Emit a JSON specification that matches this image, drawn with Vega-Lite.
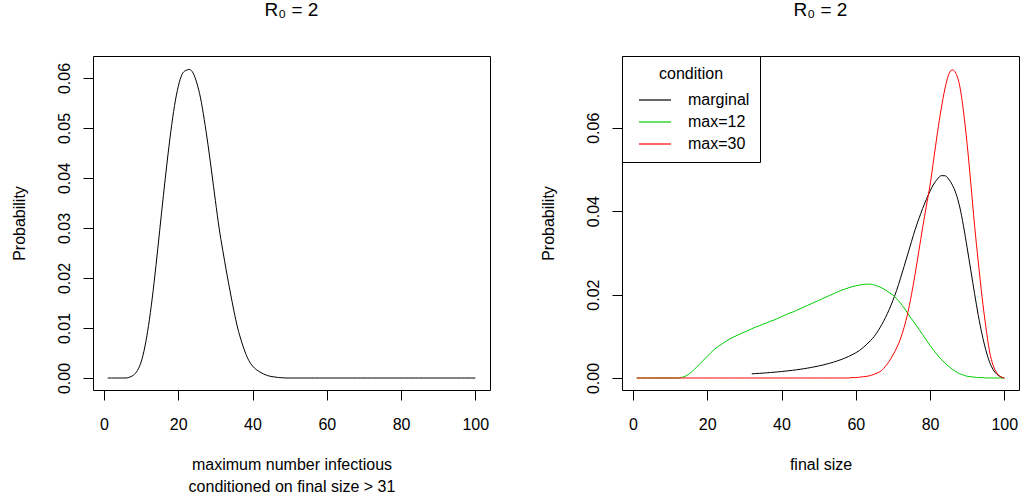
{
"$schema":"https://vega.github.io/schema/vega-lite/v6.json",
"padding":{"left":10,"top":0,"right":0,"bottom":0},
"spacing":48,
"resolve":{"scale":{"color":"independent"},"legend":{"color":"independent"}},
"config":{
 "font":"Liberation Sans",
 "view":{"stroke":"black","strokeWidth":1},
 "axis":{"grid":false,"domain":false,"tickColor":"black","tickSize":10,"tickWidth":1,"labelColor":"black","titleColor":"black","labelFontSize":16,"titleFontSize":16,"titleFontWeight":"normal","labelFont":"Liberation Sans","titleFont":"Liberation Sans","labelOverlap":false,"labelFlush":false},
 "title":{"fontSize":19,"fontWeight":"normal","color":"black","font":"Liberation Sans","anchor":"middle","baseline":"alphabetic","offset":36},
 "legend":{"titleFontSize":16,"labelFontSize":16,"titleFontWeight":"normal","labelColor":"black","titleColor":"black","labelFont":"Liberation Sans","titleFont":"Liberation Sans","strokeColor":"black","strokeWidth":1,"fillColor":"white","padding":10,"symbolType":"M-2,0H2","symbolSize":256,"symbolStrokeWidth":1.2,"symbolOffset":14,"labelOffset":24,"rowPadding":5,"titlePadding":9,"titleAnchor":"middle","titleAlign":"center"}
},
"datasets":{
"left":[
{"x":1,"p":0},{"x":2,"p":0},{"x":3,"p":0},{"x":4,"p":0},{"x":5,"p":0},{"x":6,"p":0},{"x":7,"p":0.0002},{"x":8,"p":0.0006},{"x":9,"p":0.0015},{"x":10,"p":0.0032},
{"x":11,"p":0.0062},{"x":12,"p":0.0105},{"x":13,"p":0.016},{"x":14,"p":0.0225},{"x":15,"p":0.0295},{"x":16,"p":0.0365},{"x":17,"p":0.0432},{"x":18,"p":0.0493},{"x":19,"p":0.0545},{"x":20,"p":0.0583},
{"x":21,"p":0.0607},{"x":22,"p":0.0615},{"x":23,"p":0.0617},{"x":24,"p":0.061},{"x":25,"p":0.059},{"x":26,"p":0.056},{"x":27,"p":0.0517},{"x":28,"p":0.0467},{"x":29,"p":0.0412},{"x":30,"p":0.0355},
{"x":31,"p":0.03},{"x":32,"p":0.0255},{"x":33,"p":0.0212},{"x":34,"p":0.0172},{"x":35,"p":0.0134},{"x":36,"p":0.01},{"x":37,"p":0.0074},{"x":38,"p":0.0052},{"x":39,"p":0.0035},{"x":40,"p":0.0024},
{"x":41,"p":0.0017},{"x":42,"p":0.0012},{"x":43,"p":0.0008},{"x":44,"p":0.0005},{"x":45,"p":0.0003},{"x":46,"p":0.0002},{"x":47,"p":0.0001},{"x":48,"p":0.00005},{"x":49,"p":0},{"x":50,"p":0},
{"x":51,"p":0},{"x":52,"p":0},{"x":53,"p":0},{"x":54,"p":0},{"x":55,"p":0},{"x":56,"p":0},{"x":57,"p":0},{"x":58,"p":0},{"x":59,"p":0},{"x":60,"p":0},
{"x":61,"p":0},{"x":62,"p":0},{"x":63,"p":0},{"x":64,"p":0},{"x":65,"p":0},{"x":66,"p":0},{"x":67,"p":0},{"x":68,"p":0},{"x":69,"p":0},{"x":70,"p":0},
{"x":71,"p":0},{"x":72,"p":0},{"x":73,"p":0},{"x":74,"p":0},{"x":75,"p":0},{"x":76,"p":0},{"x":77,"p":0},{"x":78,"p":0},{"x":79,"p":0},{"x":80,"p":0},
{"x":81,"p":0},{"x":82,"p":0},{"x":83,"p":0},{"x":84,"p":0},{"x":85,"p":0},{"x":86,"p":0},{"x":87,"p":0},{"x":88,"p":0},{"x":89,"p":0},{"x":90,"p":0},
{"x":91,"p":0},{"x":92,"p":0},{"x":93,"p":0},{"x":94,"p":0},{"x":95,"p":0},{"x":96,"p":0},{"x":97,"p":0},{"x":98,"p":0},{"x":99,"p":0},{"x":100,"p":0}
],
"right":[
{"x":32,"p":0.001,"condition":"marginal"},{"x":33,"p":0.00105,"condition":"marginal"},{"x":34,"p":0.00111,"condition":"marginal"},{"x":35,"p":0.00117,"condition":"marginal"},{"x":36,"p":0.00124,"condition":"marginal"},{"x":37,"p":0.00131,"condition":"marginal"},{"x":38,"p":0.00138,"condition":"marginal"},{"x":39,"p":0.00146,"condition":"marginal"},{"x":40,"p":0.00155,"condition":"marginal"},
{"x":41,"p":0.00164,"condition":"marginal"},{"x":42,"p":0.00174,"condition":"marginal"},{"x":43,"p":0.00185,"condition":"marginal"},{"x":44,"p":0.00196,"condition":"marginal"},{"x":45,"p":0.00209,"condition":"marginal"},{"x":46,"p":0.00222,"condition":"marginal"},{"x":47,"p":0.00237,"condition":"marginal"},{"x":48,"p":0.00252,"condition":"marginal"},{"x":49,"p":0.0027,"condition":"marginal"},{"x":50,"p":0.00288,"condition":"marginal"},
{"x":51,"p":0.00308,"condition":"marginal"},{"x":52,"p":0.0033,"condition":"marginal"},{"x":53,"p":0.00354,"condition":"marginal"},{"x":54,"p":0.0038,"condition":"marginal"},{"x":55,"p":0.00409,"condition":"marginal"},{"x":56,"p":0.0044,"condition":"marginal"},{"x":57,"p":0.00475,"condition":"marginal"},{"x":58,"p":0.00514,"condition":"marginal"},{"x":59,"p":0.00557,"condition":"marginal"},{"x":60,"p":0.00605,"condition":"marginal"},
{"x":61,"p":0.0066,"condition":"marginal"},{"x":62,"p":0.0073,"condition":"marginal"},{"x":63,"p":0.0081,"condition":"marginal"},{"x":64,"p":0.009,"condition":"marginal"},{"x":65,"p":0.01,"condition":"marginal"},{"x":66,"p":0.0113,"condition":"marginal"},{"x":67,"p":0.0128,"condition":"marginal"},{"x":68,"p":0.0145,"condition":"marginal"},{"x":69,"p":0.0164,"condition":"marginal"},{"x":70,"p":0.0186,"condition":"marginal"},
{"x":71,"p":0.021,"condition":"marginal"},{"x":72,"p":0.0238,"condition":"marginal"},{"x":73,"p":0.0267,"condition":"marginal"},{"x":74,"p":0.0297,"condition":"marginal"},{"x":75,"p":0.0327,"condition":"marginal"},{"x":76,"p":0.0356,"condition":"marginal"},{"x":77,"p":0.0382,"condition":"marginal"},{"x":78,"p":0.0406,"condition":"marginal"},{"x":79,"p":0.0428,"condition":"marginal"},{"x":80,"p":0.0448,"condition":"marginal"},
{"x":81,"p":0.0465,"condition":"marginal"},{"x":82,"p":0.0477,"condition":"marginal"},{"x":83,"p":0.0485,"condition":"marginal"},{"x":84,"p":0.0485,"condition":"marginal"},{"x":85,"p":0.0477,"condition":"marginal"},{"x":86,"p":0.0463,"condition":"marginal"},{"x":87,"p":0.0442,"condition":"marginal"},{"x":88,"p":0.041,"condition":"marginal"},{"x":89,"p":0.0365,"condition":"marginal"},{"x":90,"p":0.0312,"condition":"marginal"},
{"x":91,"p":0.0257,"condition":"marginal"},{"x":92,"p":0.0202,"condition":"marginal"},{"x":93,"p":0.015,"condition":"marginal"},{"x":94,"p":0.0105,"condition":"marginal"},{"x":95,"p":0.0068,"condition":"marginal"},{"x":96,"p":0.0039,"condition":"marginal"},{"x":97,"p":0.002,"condition":"marginal"},{"x":98,"p":0.0009,"condition":"marginal"},{"x":99,"p":0.0003,"condition":"marginal"},{"x":100,"p":0,"condition":"marginal"},
{"x":1,"p":0,"condition":"max=12"},{"x":2,"p":0,"condition":"max=12"},{"x":3,"p":0,"condition":"max=12"},{"x":4,"p":0,"condition":"max=12"},{"x":5,"p":0,"condition":"max=12"},{"x":6,"p":0,"condition":"max=12"},{"x":7,"p":0,"condition":"max=12"},{"x":8,"p":0,"condition":"max=12"},{"x":9,"p":0,"condition":"max=12"},{"x":10,"p":0,"condition":"max=12"},
{"x":11,"p":0,"condition":"max=12"},{"x":12,"p":0,"condition":"max=12"},{"x":13,"p":0.0001,"condition":"max=12"},{"x":14,"p":0.0004,"condition":"max=12"},{"x":15,"p":0.0009,"condition":"max=12"},{"x":16,"p":0.0016,"condition":"max=12"},{"x":17,"p":0.0025,"condition":"max=12"},{"x":18,"p":0.0034,"condition":"max=12"},{"x":19,"p":0.0043,"condition":"max=12"},{"x":20,"p":0.0052,"condition":"max=12"},
{"x":21,"p":0.0061,"condition":"max=12"},{"x":22,"p":0.0069,"condition":"max=12"},{"x":23,"p":0.0076,"condition":"max=12"},{"x":24,"p":0.0082,"condition":"max=12"},{"x":25,"p":0.0088,"condition":"max=12"},{"x":26,"p":0.0093,"condition":"max=12"},{"x":27,"p":0.0098,"condition":"max=12"},{"x":28,"p":0.0102,"condition":"max=12"},{"x":29,"p":0.0106,"condition":"max=12"},{"x":30,"p":0.011,"condition":"max=12"},
{"x":31,"p":0.0114,"condition":"max=12"},{"x":32,"p":0.0118,"condition":"max=12"},{"x":33,"p":0.0122,"condition":"max=12"},{"x":34,"p":0.0125,"condition":"max=12"},{"x":35,"p":0.0129,"condition":"max=12"},{"x":36,"p":0.0132,"condition":"max=12"},{"x":37,"p":0.0136,"condition":"max=12"},{"x":38,"p":0.0139,"condition":"max=12"},{"x":39,"p":0.0143,"condition":"max=12"},{"x":40,"p":0.0147,"condition":"max=12"},
{"x":41,"p":0.0151,"condition":"max=12"},{"x":42,"p":0.0155,"condition":"max=12"},{"x":43,"p":0.0158,"condition":"max=12"},{"x":44,"p":0.0162,"condition":"max=12"},{"x":45,"p":0.0166,"condition":"max=12"},{"x":46,"p":0.017,"condition":"max=12"},{"x":47,"p":0.0174,"condition":"max=12"},{"x":48,"p":0.0178,"condition":"max=12"},{"x":49,"p":0.0182,"condition":"max=12"},{"x":50,"p":0.0186,"condition":"max=12"},
{"x":51,"p":0.019,"condition":"max=12"},{"x":52,"p":0.0194,"condition":"max=12"},{"x":53,"p":0.0198,"condition":"max=12"},{"x":54,"p":0.0202,"condition":"max=12"},{"x":55,"p":0.0206,"condition":"max=12"},{"x":56,"p":0.021,"condition":"max=12"},{"x":57,"p":0.0213,"condition":"max=12"},{"x":58,"p":0.0216,"condition":"max=12"},{"x":59,"p":0.0219,"condition":"max=12"},{"x":60,"p":0.0221,"condition":"max=12"},
{"x":61,"p":0.0223,"condition":"max=12"},{"x":62,"p":0.0224,"condition":"max=12"},{"x":63,"p":0.0225,"condition":"max=12"},{"x":64,"p":0.0225,"condition":"max=12"},{"x":65,"p":0.0223,"condition":"max=12"},{"x":66,"p":0.022,"condition":"max=12"},{"x":67,"p":0.0216,"condition":"max=12"},{"x":68,"p":0.0211,"condition":"max=12"},{"x":69,"p":0.0205,"condition":"max=12"},{"x":70,"p":0.0199,"condition":"max=12"},
{"x":71,"p":0.019,"condition":"max=12"},{"x":72,"p":0.018,"condition":"max=12"},{"x":73,"p":0.0168,"condition":"max=12"},{"x":74,"p":0.0155,"condition":"max=12"},{"x":75,"p":0.0142,"condition":"max=12"},{"x":76,"p":0.013,"condition":"max=12"},{"x":77,"p":0.0117,"condition":"max=12"},{"x":78,"p":0.0104,"condition":"max=12"},{"x":79,"p":0.0091,"condition":"max=12"},{"x":80,"p":0.0078,"condition":"max=12"},
{"x":81,"p":0.0066,"condition":"max=12"},{"x":82,"p":0.0055,"condition":"max=12"},{"x":83,"p":0.0045,"condition":"max=12"},{"x":84,"p":0.0036,"condition":"max=12"},{"x":85,"p":0.0028,"condition":"max=12"},{"x":86,"p":0.0021,"condition":"max=12"},{"x":87,"p":0.0015,"condition":"max=12"},{"x":88,"p":0.001,"condition":"max=12"},{"x":89,"p":0.0007,"condition":"max=12"},{"x":90,"p":0.0004,"condition":"max=12"},
{"x":91,"p":0.0003,"condition":"max=12"},{"x":92,"p":0.0002,"condition":"max=12"},{"x":93,"p":0.0001,"condition":"max=12"},{"x":94,"p":0.0001,"condition":"max=12"},{"x":95,"p":0,"condition":"max=12"},{"x":96,"p":0,"condition":"max=12"},{"x":97,"p":0,"condition":"max=12"},{"x":98,"p":0,"condition":"max=12"},{"x":99,"p":0,"condition":"max=12"},{"x":100,"p":0,"condition":"max=12"},
{"x":1,"p":0,"condition":"max=30"},{"x":2,"p":0,"condition":"max=30"},{"x":3,"p":0,"condition":"max=30"},{"x":4,"p":0,"condition":"max=30"},{"x":5,"p":0,"condition":"max=30"},{"x":6,"p":0,"condition":"max=30"},{"x":7,"p":0,"condition":"max=30"},{"x":8,"p":0,"condition":"max=30"},{"x":9,"p":0,"condition":"max=30"},{"x":10,"p":0,"condition":"max=30"},
{"x":11,"p":0,"condition":"max=30"},{"x":12,"p":0,"condition":"max=30"},{"x":13,"p":0,"condition":"max=30"},{"x":14,"p":0,"condition":"max=30"},{"x":15,"p":0,"condition":"max=30"},{"x":16,"p":0,"condition":"max=30"},{"x":17,"p":0,"condition":"max=30"},{"x":18,"p":0,"condition":"max=30"},{"x":19,"p":0,"condition":"max=30"},{"x":20,"p":0,"condition":"max=30"},
{"x":21,"p":0,"condition":"max=30"},{"x":22,"p":0,"condition":"max=30"},{"x":23,"p":0,"condition":"max=30"},{"x":24,"p":0,"condition":"max=30"},{"x":25,"p":0,"condition":"max=30"},{"x":26,"p":0,"condition":"max=30"},{"x":27,"p":0,"condition":"max=30"},{"x":28,"p":0,"condition":"max=30"},{"x":29,"p":0,"condition":"max=30"},{"x":30,"p":0,"condition":"max=30"},
{"x":31,"p":0,"condition":"max=30"},{"x":32,"p":0,"condition":"max=30"},{"x":33,"p":0,"condition":"max=30"},{"x":34,"p":0,"condition":"max=30"},{"x":35,"p":0,"condition":"max=30"},{"x":36,"p":0,"condition":"max=30"},{"x":37,"p":0,"condition":"max=30"},{"x":38,"p":0,"condition":"max=30"},{"x":39,"p":0,"condition":"max=30"},{"x":40,"p":0,"condition":"max=30"},
{"x":41,"p":0,"condition":"max=30"},{"x":42,"p":0,"condition":"max=30"},{"x":43,"p":0,"condition":"max=30"},{"x":44,"p":0,"condition":"max=30"},{"x":45,"p":0,"condition":"max=30"},{"x":46,"p":0,"condition":"max=30"},{"x":47,"p":0,"condition":"max=30"},{"x":48,"p":0,"condition":"max=30"},{"x":49,"p":0,"condition":"max=30"},{"x":50,"p":0,"condition":"max=30"},
{"x":51,"p":0,"condition":"max=30"},{"x":52,"p":0,"condition":"max=30"},{"x":53,"p":0,"condition":"max=30"},{"x":54,"p":0,"condition":"max=30"},{"x":55,"p":0,"condition":"max=30"},{"x":56,"p":0,"condition":"max=30"},{"x":57,"p":0,"condition":"max=30"},{"x":58,"p":0,"condition":"max=30"},{"x":59,"p":0.0001,"condition":"max=30"},{"x":60,"p":0.0001,"condition":"max=30"},
{"x":61,"p":0.0002,"condition":"max=30"},{"x":62,"p":0.0003,"condition":"max=30"},{"x":63,"p":0.0004,"condition":"max=30"},{"x":64,"p":0.0006,"condition":"max=30"},{"x":65,"p":0.0009,"condition":"max=30"},{"x":66,"p":0.0013,"condition":"max=30"},{"x":67,"p":0.0018,"condition":"max=30"},{"x":68,"p":0.0028,"condition":"max=30"},{"x":69,"p":0.004,"condition":"max=30"},{"x":70,"p":0.0055,"condition":"max=30"},
{"x":71,"p":0.0072,"condition":"max=30"},{"x":72,"p":0.0093,"condition":"max=30"},{"x":73,"p":0.0121,"condition":"max=30"},{"x":74,"p":0.0156,"condition":"max=30"},{"x":75,"p":0.02,"condition":"max=30"},{"x":76,"p":0.025,"condition":"max=30"},{"x":77,"p":0.0305,"condition":"max=30"},{"x":78,"p":0.036,"condition":"max=30"},{"x":79,"p":0.0412,"condition":"max=30"},{"x":80,"p":0.0462,"condition":"max=30"},
{"x":81,"p":0.0525,"condition":"max=30"},{"x":82,"p":0.0588,"condition":"max=30"},{"x":83,"p":0.0645,"condition":"max=30"},{"x":84,"p":0.0693,"condition":"max=30"},{"x":85,"p":0.0727,"condition":"max=30"},{"x":86,"p":0.0739,"condition":"max=30"},{"x":87,"p":0.073,"condition":"max=30"},{"x":88,"p":0.07,"condition":"max=30"},{"x":89,"p":0.064,"condition":"max=30"},{"x":90,"p":0.056,"condition":"max=30"},
{"x":91,"p":0.0465,"condition":"max=30"},{"x":92,"p":0.0365,"condition":"max=30"},{"x":93,"p":0.0278,"condition":"max=30"},{"x":94,"p":0.0195,"condition":"max=30"},{"x":95,"p":0.0125,"condition":"max=30"},{"x":96,"p":0.0065,"condition":"max=30"},{"x":97,"p":0.003,"condition":"max=30"},{"x":98,"p":0.0012,"condition":"max=30"},{"x":99,"p":0.0003,"condition":"max=30"},{"x":100,"p":0,"condition":"max=30"}
]
},
"hconcat":[
{
 "title":"R₀ = 2",
 "width":397,"height":334,
 "data":{"name":"left"},
 "mark":{"type":"line","color":"black","strokeWidth":1,"interpolate":"monotone"},
 "encoding":{
  "x":{"field":"x","type":"quantitative","scale":{"domain":[-2.96,103.96],"nice":false,"zero":false},
   "axis":{"values":[0,20,40,60,80,100],"title":["maximum number infectious","conditioned on final size > 31"],"labelBaseline":"alphabetic","labelPadding":29,"minExtent":40,"maxExtent":40,"titlePadding":26,"titleLineHeight":22}},
  "y":{"field":"p","type":"quantitative","scale":{"domain":[-0.0024,0.0644],"nice":false,"zero":false},
   "axis":{"values":[0,0.01,0.02,0.03,0.04,0.05,0.06],"format":".2f","title":"Probability","labelAngle":-90,"labelAlign":"center","labelBaseline":"alphabetic","labelPadding":14,"minExtent":40,"maxExtent":40,"titlePadding":26}}
 }
},
{
 "title":"R₀ = 2",
 "width":397,"height":334,
 "data":{"name":"right"},
 "mark":{"type":"line","strokeWidth":1,"interpolate":"monotone"},
 "encoding":{
  "x":{"field":"x","type":"quantitative","scale":{"domain":[-2.96,103.96],"nice":false,"zero":false},
   "axis":{"values":[0,20,40,60,80,100],"title":"final size","labelBaseline":"alphabetic","labelPadding":29,"minExtent":40,"maxExtent":40,"titlePadding":26}},
  "y":{"field":"p","type":"quantitative","scale":{"domain":[-0.00288,0.0772],"nice":false,"zero":false},
   "axis":{"values":[0,0.02,0.04,0.06],"format":".2f","title":"Probability","labelAngle":-90,"labelAlign":"center","labelBaseline":"alphabetic","labelPadding":14,"minExtent":40,"maxExtent":40,"titlePadding":26}},
  "color":{"field":"condition","type":"nominal","scale":{"domain":["marginal","max=12","max=30"],"range":["#000000","#00CD00","#FF0000"]},
   "legend":{"title":"condition","orient":"top-left","offset":0}}
 }
}
]
}
